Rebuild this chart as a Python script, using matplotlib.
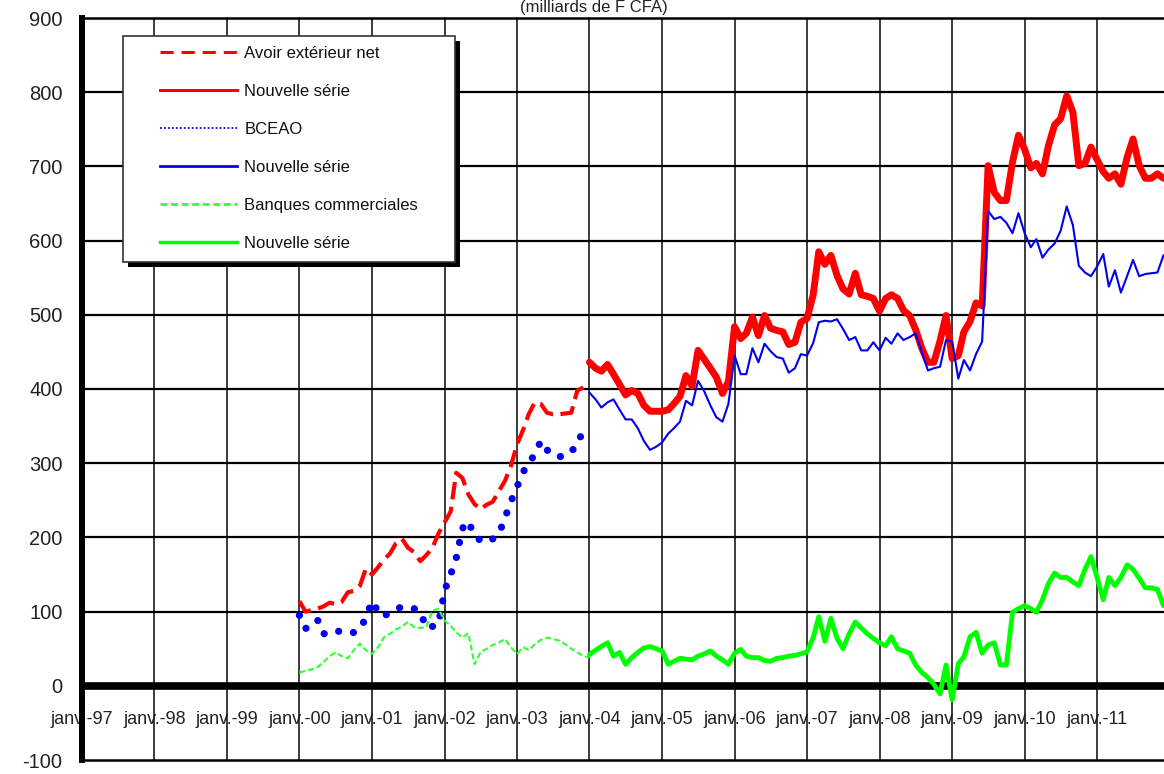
import matplotlib.pyplot as plt
import numpy as np
import pandas as pd
from matplotlib.lines import Line2D
from matplotlib.patches import Rectangle

plt.rcParams['font.family'] = ['Liberation Sans', 'DejaVu Sans']
plt.rcParams['axes.unicode_minus'] = False

# Séries mensuelles (milliards de F CFA)
mois_ancien = pd.date_range('2000-01-01', periods=48, freq='MS')
mois_vert_ancien = pd.date_range('2000-01-01', periods=49, freq='MS')
mois_nouveau = pd.date_range('2004-01-01', periods=96, freq='MS')

avoir_ancien = [114, 100, 102, 104, 107, 112, 110, 113, 126, 128, 135, 158,
                150, 160, 170, 178, 192, 198, 186, 180, 168, 176, 186, 205,
                220, 235, 287, 280, 258, 245, 238, 244, 248, 262, 276, 296,
                325, 345, 366, 382, 380, 368, 366, 366, 367, 368, 398, 402]
bceao_ancien = [95, 77, 84, 89, 70, 72, 75, 72, 70, 72, 76, 92,
                114, 100, 93, 100, 104, 106, 107, 104, 100, 78, 80, 82,
                128, 150, 172, 212, 222, 202, 196, 193, 198, 204, 226, 248,
                268, 288, 300, 312, 330, 318, 310, 309, 309, 316, 324, 346]
banques_ancien = [18, 20, 22, 25, 32, 40, 45, 40, 37, 48, 57, 48,
                  43, 52, 65, 70, 76, 80, 86, 79, 78, 79, 101, 104,
                  88, 81, 72, 65, 71, 29, 45, 50, 55, 58, 63, 52,
                  43, 52, 48, 56, 62, 65, 63, 61, 56, 50, 45, 40, 38]

avoir_nouveau = [436, 428, 424, 433, 420, 406, 392, 398, 394, 378, 370, 370,
                 370, 372, 380, 390, 418, 404, 452, 440, 428, 416, 394, 410,
                 484, 468, 475, 497, 472, 499, 482, 479, 477, 460, 463, 490,
                 495, 527, 585, 568, 580, 553, 535, 528, 556, 527, 525, 522,
                 505, 522, 527, 522, 506, 499, 480, 455, 436, 436, 465, 499,
                 441, 445, 477, 491, 516, 512, 701, 665, 654, 654, 706, 742,
                 723, 698, 704, 690, 728, 756, 764, 795, 773, 701, 704, 726,
                 709, 693, 684, 690, 676, 712, 737, 701, 684, 684, 690, 684]
bceao_nouveau = [395, 386, 375, 382, 386, 372, 359, 359, 347, 330, 318, 322,
                 328, 340, 347, 356, 384, 378, 411, 397, 378, 362, 356, 380,
                 445, 420, 420, 455, 436, 461, 451, 443, 441, 422, 428, 447,
                 445, 462, 490, 492, 491, 494, 481, 466, 470, 452, 452, 463,
                 452, 469, 461, 475, 466, 470, 475, 450, 425, 428, 430, 466,
                 464, 414, 439, 425, 447, 464, 640, 629, 632, 624, 610, 637,
                 610, 591, 602, 577, 588, 596, 613, 646, 621, 566, 557, 552,
                 565, 582, 538, 560, 530, 552, 574, 552, 555, 556, 557, 580]
banques_nouveau = [42, 48, 53, 58, 40, 45, 29, 38, 45, 51, 53, 50,
                   47, 29, 33, 37, 36, 35, 40, 43, 47, 40, 35, 29,
                   44, 49, 40, 38, 38, 34, 33, 37, 38, 40, 41, 43,
                   46, 65, 93, 60, 91, 64, 50, 70, 86, 78, 70, 64,
                   58, 54, 66, 50, 47, 44, 28, 18, 11, 2, -11, 28,
                   -19, 30, 39, 66, 72, 44, 55, 58, 28, 28, 99, 104,
                   108, 104, 99, 116, 138, 152, 146, 146, 140, 135, 157, 174,
                   146, 116, 146, 135, 146, 163, 157, 145, 132, 132, 130, 108]

annees = pd.date_range('1997-01-01', '2011-01-01', freq='YS')
etiquettes_x = [f"janv.-{a:%y}" for a in annees]
graduations_y = list(range(-100, 901, 100))
titre = "(milliards de F CFA)"
noms = ["Avoir extérieur net", "Nouvelle série", "BCEAO", "Nouvelle série",
        "Banques commerciales", "Nouvelle série"]

ROUGE = '#ff0000'
BLEU = '#0000ee'
VERT = '#00ff00'
VERT_CLAIR = '#33ff33'

fig = plt.figure(figsize=(11.64, 7.74), dpi=100)
ax = fig.add_axes([82 / 1164, 1 - 760 / 774, 1 - 82 / 1164, 742 / 774])

# grille
for a in annees:
    ax.axvline(a, color='#1a1a1a', lw=1.2, zorder=2)
for v in graduations_y:
    if v not in (-100, 0, 900):
        ax.axhline(v, color='black', lw=1.6, zorder=2)
ax.axhline(0, color='black', lw=5.5, zorder=2.6)

# séries
ax.plot(mois_ancien, avoir_ancien, color=ROUGE, lw=3, ls=(0, (4.2, 1.8)), zorder=3)
ax.plot(mois_nouveau, avoir_nouveau, color=ROUGE, lw=5, solid_joinstyle='round',
        solid_capstyle='round', zorder=3)
ax.plot(mois_ancien, bceao_ancien, color=BLEU, lw=5.2, ls=(0, (0.01, 2.1)),
        dash_capstyle='round', zorder=3)
ax.plot(mois_nouveau, bceao_nouveau, color=BLEU, lw=1.5, zorder=3)
ax.plot(mois_vert_ancien, banques_ancien, color=VERT_CLAIR, lw=1.5, ls=(0, (2.9, 1.4)), zorder=3)
ax.plot(mois_nouveau, banques_nouveau, color=VERT, lw=3.5, solid_joinstyle='round',
        solid_capstyle='round', zorder=3)

ax.set_xlim(pd.Timestamp('1997-01-01'), pd.Timestamp('2011-12-04'))
ax.set_ylim(-100, 900)

ax.set_xticks([])
ax.set_yticks(graduations_y)
ax.tick_params(axis='y', length=0, pad=14, labelsize=14.5, labelcolor='#222222')

for a, lab in zip(annees, etiquettes_x):
    ax.text(a, -45, lab, ha='center', va='center', fontsize=13, color='#222222', zorder=1)

ax.spines['right'].set_visible(False)
ax.spines['left'].set_linewidth(4.3)
ax.spines['top'].set_linewidth(1.8)
ax.spines['bottom'].set_linewidth(1.8)
for s in ax.spines.values():
    s.set_zorder(2.7)

# légende avec cadre et ombre
x0, y0, w, h = 41 / 1082, 498 / 742, 332 / 1082, 226 / 742
ax.add_patch(Rectangle((x0 + 5 / 1082, y0 - 5 / 742), w, h, transform=ax.transAxes,
                       facecolor='black', edgecolor='none', zorder=4))
ax.add_patch(Rectangle((x0, y0), w, h, transform=ax.transAxes,
                       facecolor='white', edgecolor='#333333', lw=1.2, zorder=4.1))

poignees = [
    Line2D([], [], color=ROUGE, lw=2.2, ls=(0, (4.3, 2.6))),
    Line2D([], [], color=ROUGE, lw=2.2),
    Line2D([], [], color=BLEU, lw=1.3, ls=(0, (1, 1.2))),
    Line2D([], [], color=BLEU, lw=2),
    Line2D([], [], color=VERT_CLAIR, lw=2, ls=(0, (2.5, 1.3))),
    Line2D([], [], color=VERT, lw=2.5),
]
leg = ax.legend(poignees, noms, loc='upper left', bbox_to_anchor=(78 / 1082, 714 / 742),
                frameon=False, borderpad=0, borderaxespad=0, fontsize=12,
                handlelength=4.6, handletextpad=0.45, labelspacing=1.38)
leg.set_zorder(5)
for t in leg.get_texts():
    t.set_color('#111111')

fig.text(594 / 1164, 1.0, titre, ha='center', va='top', fontsize=12, color='#222222')

fig.savefig('out.png', dpi=100)
